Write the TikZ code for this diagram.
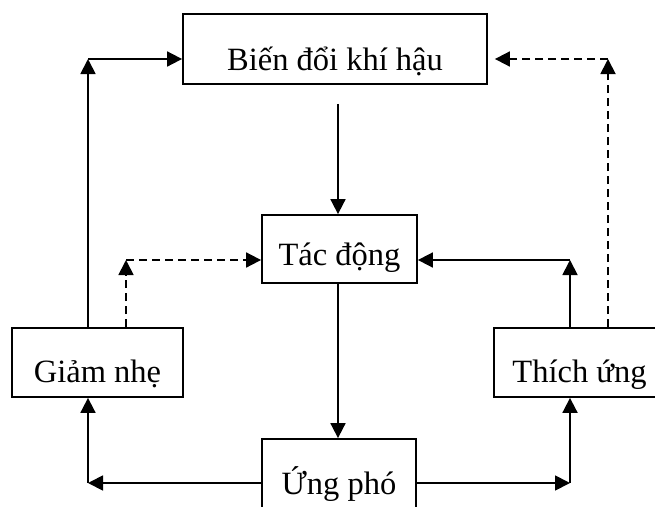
\documentclass[tikz,border=0pt]{standalone}
\usepackage{fontspec}
\setmainfont{Liberation Serif}
\usetikzlibrary{arrows.meta}
\begin{document}
\begin{tikzpicture}[x=1pt,y=-1pt,
  box/.style={draw, line width=1.8pt, inner xsep=0pt, inner ysep=0pt,
    font=\fontsize{32.5}{32.5}\selectfont},
  link/.style={line width=1.8pt, -{Triangle[length=15pt,width=15pt]}},
  dashlink/.style={link, dash pattern=on 8pt off 5pt}]
\useasboundingbox (0,0) rectangle (655,506);
\clip (0,0) rectangle (655,506);

% boxes (text height/depth put the baseline below the box centre)
\node[box, minimum width=304pt, minimum height=70pt, text height=56pt, text depth=14pt]
  (bd) at (335,49) {Biến đổi khí hậu};
\node[box, minimum width=155pt, minimum height=68pt, text height=50pt, text depth=18pt]
  (td) at (339.5,249) {Tác động};
\node[box, minimum width=171pt, minimum height=69pt, text height=54pt, text depth=15pt]
  (gn) at (97.5,362.5) {Giảm nhẹ};
\node[box, minimum width=171pt, minimum height=69pt, text height=54pt, text depth=15pt]
  (tu) at (579.5,362.5) {Thích ứng};
\node[box, minimum width=154pt, minimum height=70pt, text height=55pt, text depth=15pt]
  (up) at (339,474) {Ứng phó};

% corners of the loops
\coordinate (cL1) at (88,59);
\coordinate (cR1) at (608,59);
\coordinate (cL2) at (126,260);
\coordinate (cR2) at (570,260);
\coordinate (bL) at (88,483);
\coordinate (bR) at (570,483);
\coordinate (mid) at (338,0);

% outer loops to climate change
\draw[link] (cL1 |- gn.north) -- (cL1);
\draw[link] (cL1) -- (cL1 -| bd.west);
\draw[dashlink] (cR1 |- tu.north) -- (cR1);
\draw[dashlink, shorten >=7pt] (cR1) -- (cR1 -| bd.east);

% central chain
\draw[link, shorten <=19pt] (mid |- bd.south) -- (mid |- td.north);
\draw[link] (mid |- td.south) -- (mid |- up.north);

% inner loops to impacts
\draw[dashlink] (cL2 |- gn.north) -- (cL2);
\draw[dashlink] (cL2) -- (cL2 -| td.west);
\draw[link] (cR2 |- tu.north) -- (cR2);
\draw[link] (cR2) -- (cR2 -| td.east);

% response feeding both strategies
\draw[link] (bL -| up.west) -- (bL);
\draw[link] (bL) -- (bL |- gn.south);
\draw[link] (bR -| up.east) -- (bR);
\draw[link] (bR) -- (bR |- tu.south);
\end{tikzpicture}
\end{document}
